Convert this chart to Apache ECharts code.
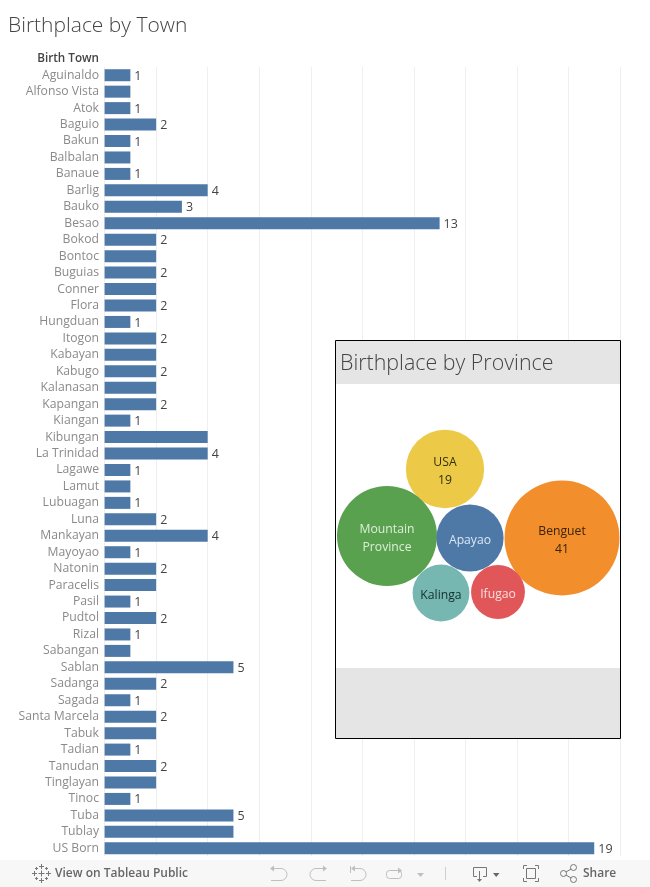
<!DOCTYPE html>
<html><head><meta charset="utf-8">
<style>html,body{margin:0;padding:0;background:#fff}#c{width:650px;height:887px}</style>
<script src="https://cdn.jsdelivr.net/npm/echarts@6/dist/echarts.min.js"></script>
</head><body><div id="c"></div>
<script>
const towns = ["Aguinaldo","Alfonso Vista","Atok","Baguio","Bakun","Balbalan","Banaue","Barlig","Bauko","Besao","Bokod","Bontoc","Buguias","Conner","Flora","Hungduan","Itogon","Kabayan","Kabugo","Kalanasan","Kapangan","Kiangan","Kibungan","La Trinidad","Lagawe","Lamut","Lubuagan","Luna","Mankayan","Mayoyao","Natonin","Paracelis","Pasil","Pudtol","Rizal","Sabangan","Sablan","Sadanga","Sagada","Santa Marcela","Tabuk","Tadian","Tanudan","Tinglayan","Tinoc","Tuba","Tublay","US Born"];
const townCounts = [1,1,1,2,1,1,1,4,3,13,2,2,2,2,2,1,2,2,2,2,2,1,4,4,1,1,1,2,4,1,2,2,1,2,1,1,5,2,1,2,2,1,2,2,1,5,5,19];
const townsWithoutLabel = ["Alfonso Vista","Balbalan","Bontoc","Conner","Kabayan","Kalanasan","Kibungan","Lamut","Paracelis","Sabangan","Tabuk","Tinglayan","Tublay"];
const provinces = ["Benguet","USA","Mountain\nProvince","Apayao","Kalinga","Ifugao"];
const provinceCounts = [41,19,31,14,10,9];
const provinceLabels = ["Benguet\n41","USA\n19","Mountain\nProvince","Apayao","Kalinga","Ifugao"];
const provinceColors = ["#f28e2b","#edc948","#59a14f","#4e79a7","#76b7b2","#e15759"];
const provinceTextColors = ["#3a2408","#33300f","#dcefd8","#dbe6f2","#14302e","#fbdcdc"];
const packX = [226,109,51,134,105,162];
const packY = [154,85,152,154,209,208];
const FONT = '"Open Sans", sans-serif';
const chart = echarts.init(document.getElementById('c'), null, {renderer:'canvas'});
function poly(points,color,w){return {type:'polyline',z:5,silent:true,shape:{points:points},style:{fill:'none',stroke:color,lineWidth:w||1}}}
function arc(cx,cy,r,a,b,color){return {type:'arc',z:5,silent:true,shape:{cx:cx,cy:cy,r:r,startAngle:a,endAngle:b,clockwise:true},style:{fill:'none',stroke:color,lineWidth:1}}}
function circ(cx,cy,r,color){return {type:'circle',z:5,silent:true,shape:{cx:cx,cy:cy,r:r},style:{fill:'none',stroke:color,lineWidth:1}}}
function tri(points,color){return {type:'polygon',z:5,silent:true,shape:{points:points},style:{fill:color}}}
function cross(cx,cy,s,color){return [poly([[cx-s,cy],[cx+s,cy]],color),poly([[cx,cy-s],[cx,cy+s]],color)]}
const logo='#777', off='#bfbfbf', on='#777';
const H=Math.PI/2;
chart.setOption({
  animation:false,
  backgroundColor:'#fff',
  textStyle:{fontFamily:FONT},
  grid:[
    {left:104.6,right:30,top:67,bottom:30.5},
    {left:336,top:384,width:284,height:284}
  ],
  xAxis:[
    {type:'value',gridIndex:0,min:0,max:20,interval:2,axisLabel:{show:false},axisLine:{show:false},axisTick:{show:false},
     splitLine:{show:true,lineStyle:{color:'#efefef',width:1}}},
    {type:'value',gridIndex:1,min:0,max:284,show:false,splitLine:{show:false}}
  ],
  yAxis:[
    {type:'category',gridIndex:0,inverse:true,data:towns,axisLine:{show:false},axisTick:{show:false},
     axisLabel:{interval:0,color:'#8a8a8a',fontSize:12.2,margin:5.6,padding:[2,0,0,0],fontFamily:FONT},splitLine:{show:false}},
    {type:'value',gridIndex:1,min:0,max:284,inverse:true,show:false,splitLine:{show:false}}
  ],
  title:[
    {text:'Birthplace by Town',left:8,top:16,padding:0,textStyle:{fontSize:21,fontWeight:300,color:'#444',fontFamily:FONT}},
    {text:'Birth Town',right:551,top:53,padding:0,textStyle:{fontSize:11.7,fontWeight:600,color:'#444',fontFamily:FONT}}
  ],
  series:[
    {type:'bar',xAxisIndex:0,yAxisIndex:0,barWidth:12,
     itemStyle:{color:'#4e79a7'},
     data:townCounts.map((v,i)=>({value:v,label:{show:!townsWithoutLabel.includes(towns[i])}})),
     label:{position:'right',distance:4,offset:[0,1],fontSize:12.5,color:'#444',fontFamily:FONT}},
    {type:'scatter',xAxisIndex:1,yAxisIndex:1,z:3,
     symbolSize:p=>2*8.98*Math.sqrt(p[2]),
     data:provinces.map((n,i)=>({name:n,value:[packX[i],packY[i],provinceCounts[i]],
       itemStyle:{color:provinceColors[i],opacity:1},
       label:{show:true,position:'inside',offset:[0,3],formatter:provinceLabels[i],color:provinceTextColors[i],fontSize:12.2,lineHeight:18,fontFamily:FONT}}))}
  ],
  graphic:[
    {type:'rect',z:1,silent:true,shape:{x:335.5,y:340.5,width:285,height:398},style:{fill:'#fff',stroke:'#000',lineWidth:1}},
    {type:'rect',z:1,silent:true,shape:{x:336,y:341,width:284,height:43},style:{fill:'#e5e5e5'}},
    {type:'rect',z:1,silent:true,shape:{x:336,y:668,width:284,height:70},style:{fill:'#e5e5e5'}},
    {type:'text',z:2,silent:true,x:340,y:353,style:{text:'Birthplace by Province',fontSize:21.4,fontWeight:300,fill:'#444',fontFamily:FONT}},
    {type:'rect',z:4,silent:true,shape:{x:0,y:860,width:650,height:27},style:{fill:'#f7f7f7'}},
    {type:'text',z:5,silent:true,x:55,y:868,style:{text:'View on Tableau Public',fontSize:12,fontWeight:600,fill:'#666',fontFamily:FONT}},
    {type:'text',z:5,silent:true,x:583,y:868,style:{text:'Share',fontSize:12,fontWeight:600,fill:'#666',fontFamily:FONT}},
    ...cross(41.5,873.5,3,logo),...cross(41.5,866.5,2.5,logo),...cross(41.5,880.5,2.5,logo),...cross(34.5,873.5,2.5,logo),...cross(48.5,873.5,2.5,logo),
    ...cross(36.5,868.5,1.5,logo),...cross(46.5,868.5,1.5,logo),...cross(36.5,878.5,1.5,logo),...cross(46.5,878.5,1.5,logo),
    poly([[271,868.5],[281,868.5]],off),arc(281,874.5,6,-H,H,off),poly([[281,880.5],[271,880.5]],off),tri([[270,868.5],[274,865.5],[274,871.5]],off),
    poly([[326,868.5],[316,868.5]],off),arc(316,874.5,6,H,3*H,off),poly([[316,880.5],[326,880.5]],off),tri([[327,868.5],[323,865.5],[323,871.5]],off),
    poly([[350.5,866],[350.5,873]],off),poly([[352,868.5],[360,868.5]],off),arc(360,874.5,6,-H,H,off),poly([[360,880.5],[351,880.5]],off),tri([[351,868.5],[355,865.5],[355,871.5]],off),
    {type:'rect',z:5,silent:true,shape:{x:386.5,y:870.5,width:15,height:8,r:3},style:{fill:'none',stroke:off,lineWidth:1}},tri([[402,870.5],[398,867.5],[398,873.5]],off),
    tri([[417,873],[424,873],[420.5,877]],off),
    poly([[445.5,867],[445.5,880]],'#cfcfcf'),
    poly([[477,876.5],[473.5,876.5],[473.5,867.5],[486.5,867.5],[486.5,876.5],[483,876.5]],on),poly([[479.5,871],[479.5,880]],on),tri([[477,879],[482,879],[479.5,882]],on),
    tri([[493,873],[499.5,873],[496.2,877]],'#666'),
    poly([[523.5,869],[523.5,865.5],[527,865.5]],on),poly([[535,865.5],[538.5,865.5],[538.5,869]],on),poly([[523.5,878],[523.5,881.5],[527,881.5]],on),poly([[535,881.5],[538.5,881.5],[538.5,878]],on),
    {type:'rect',z:5,silent:true,shape:{x:526.5,y:868.5,width:9,height:10},style:{fill:'none',stroke:on,lineWidth:1}},
    circ(563.5,873.5,3,on),circ(573.5,867.5,3,on),circ(573.5,879.5,3,on),poly([[566,872],[571,869]],on),poly([[566,875],[571,878]],on)
  ]
});
</script></body></html>
